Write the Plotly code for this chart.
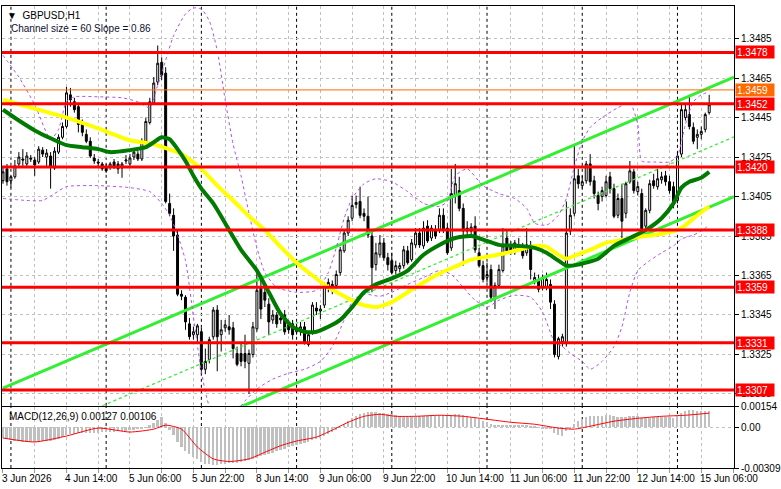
import plotly.graph_objects as go

W, H = 781, 489
ML, MR, MT, MB = 2, 41, 0, 21
PH = H - MT - MB  # plot area height

# ---------------- data ----------------
bar_idx = list(range(179))
opens = [1.34130,1.34190,1.34130,1.34150,1.34215,1.34240,1.34215,1.34245,1.34235,1.34225,
 1.34285,1.34250,1.34255,1.34195,1.34275,1.34350,1.34405,1.34565,1.34530,1.34505,
 1.34425,1.34365,1.34330,1.34245,1.34225,1.34215,1.34200,1.34200,1.34225,1.34215,
 1.34195,1.34230,1.34215,1.34250,1.34265,1.34240,1.34330,1.34425,1.34525,1.34630,
 1.34730,1.34675,1.34015,1.33955,1.33855,1.33555,1.33540,1.33405,1.33350,1.33350,
 1.33365,1.33175,1.33225,1.33340,1.33475,1.33350,1.33385,1.33390,1.33385,1.33255,
 1.33255,1.33255,1.33205,1.33250,1.33380,1.33590,1.33565,1.33505,1.33425,1.33450,
 1.33435,1.33450,1.33400,1.33405,1.33365,1.33365,1.33390,1.33300,1.33365,1.33485,
 1.33470,1.33500,1.33590,1.33605,1.33600,1.33665,1.33775,1.33865,1.33940,1.34010,
 1.34025,1.33965,1.33950,1.33850,1.33705,1.33755,1.33815,1.33740,1.33725,1.33675,
 1.33685,1.33700,1.33775,1.33730,1.33805,1.33865,1.33800,1.33900,1.33840,1.33880,
 1.33880,1.33955,1.33890,1.33790,1.34055,1.34080,1.33990,1.33890,1.33875,1.33900,
 1.33765,1.33700,1.33640,1.33680,1.33530,1.33600,1.33675,1.33840,1.33800,1.33775,
 1.33790,1.33780,1.33765,1.33805,1.33625,1.33630,1.33590,1.33590,1.33605,1.33505,
 1.33240,1.33315,1.33305,1.33875,1.33965,1.34155,1.34105,1.34130,1.34215,1.34130,
 1.34055,1.34050,1.34055,1.34150,1.34090,1.33955,1.34040,1.33965,1.34125,1.34175,
 1.34075,1.34065,1.33900,1.33980,1.34130,1.34100,1.34135,1.34155,1.34125,1.34100,
 1.34030,1.34265,1.34450,1.34465,1.34400,1.34350,1.34365,1.34390,1.34475]
highs = [1.34200,1.34215,1.34155,1.34235,1.34275,1.34290,1.34275,1.34260,1.34250,1.34305,
 1.34300,1.34290,1.34275,1.34300,1.34365,1.34425,1.34605,1.34600,1.34550,1.34525,
 1.34440,1.34390,1.34350,1.34265,1.34240,1.34225,1.34215,1.34225,1.34240,1.34230,
 1.34225,1.34260,1.34265,1.34290,1.34280,1.34345,1.34450,1.34550,1.34655,1.34815,
 1.34755,1.34705,1.34065,1.33990,1.33875,1.33575,1.33550,1.33435,1.33390,1.33405,
 1.33385,1.33280,1.33340,1.33490,1.33500,1.33425,1.33425,1.33450,1.33415,1.33290,
 1.33305,1.33350,1.33275,1.33415,1.33665,1.33640,1.33615,1.33535,1.33475,1.33465,
 1.33455,1.33475,1.33425,1.33425,1.33405,1.33415,1.33415,1.33365,1.33515,1.33515,
 1.33500,1.33615,1.33635,1.33625,1.33675,1.33795,1.33885,1.33950,1.34055,1.34055,
 1.34100,1.33990,1.34050,1.33875,1.33815,1.33855,1.33840,1.33765,1.33765,1.33725,
 1.33715,1.33800,1.33800,1.33835,1.33890,1.33890,1.33925,1.33930,1.33905,1.33905,
 1.33990,1.33990,1.33915,1.34190,1.34215,1.34150,1.34015,1.33925,1.33915,1.33950,
 1.33790,1.33725,1.33715,1.33705,1.33615,1.33705,1.33890,1.33875,1.33825,1.33830,
 1.33840,1.33815,1.33890,1.33825,1.33665,1.33655,1.33655,1.33665,1.33630,1.33525,
 1.33340,1.33355,1.34025,1.33990,1.34315,1.34190,1.34155,1.34230,1.34265,1.34155,
 1.34075,1.34100,1.34155,1.34175,1.34115,1.34065,1.34115,1.34125,1.34230,1.34190,
 1.34125,1.34090,1.33990,1.34135,1.34165,1.34190,1.34175,1.34180,1.34155,1.34125,
 1.34275,1.34515,1.34515,1.34565,1.34425,1.34390,1.34405,1.34475,1.34565]
lows = [1.34115,1.34105,1.34095,1.34140,1.34200,1.34205,1.34205,1.34225,1.34155,1.34215,
 1.34250,1.34205,1.34090,1.34185,1.34265,1.34340,1.34395,1.34505,1.34475,1.34375,
 1.34355,1.34320,1.34245,1.34215,1.34200,1.34180,1.34170,1.34185,1.34190,1.34165,
 1.34145,1.34215,1.34205,1.34235,1.34230,1.34230,1.34320,1.34415,1.34515,1.34615,
 1.34640,1.34015,1.33950,1.33775,1.33545,1.33525,1.33375,1.33325,1.33325,1.33315,
 1.33150,1.33150,1.33205,1.33325,1.33165,1.33265,1.33365,1.33350,1.33230,1.33190,
 1.33190,1.33180,1.33050,1.33235,1.33365,1.33430,1.33490,1.33350,1.33405,1.33385,
 1.33405,1.33350,1.33355,1.33325,1.33350,1.33345,1.33300,1.33290,1.33350,1.33450,
 1.33430,1.33485,1.33565,1.33555,1.33585,1.33650,1.33765,1.33850,1.33925,1.33990,
 1.33940,1.33925,1.33840,1.33565,1.33675,1.33740,1.33725,1.33675,1.33655,1.33655,
 1.33665,1.33685,1.33705,1.33720,1.33790,1.33790,1.33785,1.33815,1.33825,1.33835,
 1.33865,1.33865,1.33755,1.33775,1.34015,1.33975,1.33700,1.33855,1.33855,1.33765,
 1.33690,1.33615,1.33615,1.33515,1.33480,1.33590,1.33665,1.33765,1.33755,1.33755,
 1.33775,1.33735,1.33750,1.33630,1.33605,1.33565,1.33575,1.33575,1.33480,1.33235,
 1.33225,1.33290,1.33290,1.33855,1.33950,1.34090,1.34090,1.34115,1.34105,1.34040,
 1.33980,1.34025,1.34045,1.34065,1.33940,1.33940,1.33815,1.33940,1.34115,1.34065,
 1.34055,1.33865,1.33875,1.33965,1.34090,1.34085,1.34115,1.34105,1.34065,1.33990,
 1.34015,1.34250,1.34435,1.34390,1.34315,1.34290,1.34340,1.34375,1.34465]
closes = [1.34175,1.34125,1.34150,1.34205,1.34250,1.34235,1.34255,1.34240,1.34210,1.34290,
 1.34265,1.34270,1.34200,1.34280,1.34350,1.34405,1.34575,1.34540,1.34490,1.34415,
 1.34375,1.34330,1.34255,1.34230,1.34220,1.34190,1.34180,1.34215,1.34200,1.34190,
 1.34215,1.34235,1.34245,1.34275,1.34240,1.34330,1.34430,1.34530,1.34625,1.34725,
 1.34665,1.34025,1.33965,1.33850,1.33555,1.33545,1.33415,1.33340,1.33365,1.33395,
 1.33175,1.33215,1.33325,1.33475,1.33340,1.33375,1.33400,1.33375,1.33280,1.33200,
 1.33215,1.33215,1.33255,1.33390,1.33575,1.33480,1.33525,1.33415,1.33450,1.33405,
 1.33425,1.33365,1.33375,1.33350,1.33385,1.33390,1.33315,1.33350,1.33500,1.33470,
 1.33480,1.33600,1.33615,1.33580,1.33655,1.33780,1.33865,1.33930,1.34005,1.34020,
 1.33955,1.33950,1.33855,1.33690,1.33765,1.33815,1.33740,1.33705,1.33665,1.33700,
 1.33700,1.33780,1.33715,1.33815,1.33865,1.33805,1.33890,1.33825,1.33890,1.33850,
 1.33955,1.33880,1.33765,1.34065,1.34115,1.33990,1.33875,1.33875,1.33895,1.33780,
 1.33700,1.33630,1.33655,1.33540,1.33600,1.33680,1.33800,1.33775,1.33765,1.33815,
 1.33805,1.33750,1.33805,1.33680,1.33640,1.33580,1.33640,1.33630,1.33515,1.33250,
 1.33330,1.33340,1.33865,1.33955,1.34140,1.34115,1.34125,1.34215,1.34125,1.34065,
 1.34015,1.34080,1.34125,1.34090,1.33950,1.34040,1.33925,1.34115,1.34180,1.34080,
 1.34100,1.33875,1.33980,1.34115,1.34105,1.34140,1.34150,1.34125,1.34080,1.34025,
 1.34255,1.34490,1.34490,1.34405,1.34330,1.34365,1.34380,1.34465,1.34515]

# moving averages (read at sampled bars)
ma_slow_x = [0,8,16,24,32,38,41,45,50,54,58,62,66,70,74,78,82,86,90,94,98,102,106,110,114,118,122,126,130,134,137,140,142,144,148,152,156,160,164,168,170,172,175,178]
ma_slow_y = [1.34540,1.34495,1.34450,1.34395,1.34335,1.34315,1.34295,1.34265,1.34190,1.34105,1.34030,1.33950,1.33880,1.33795,1.33715,1.33650,1.33590,1.33545,1.33505,1.33490,1.33515,1.33565,1.33615,1.33660,1.33695,1.33730,1.33745,1.33760,1.33780,1.33800,1.33795,1.33755,1.33735,1.33750,1.33780,1.33815,1.33830,1.33845,1.33855,1.33870,1.33880,1.33905,1.33955,1.34000]
ma_fast_x = [0,4,8,12,16,20,24,27,32,36,38,40,42,44,46,48,50,53,56,60,64,67,70,73,76,79,82,85,88,91,94,98,102,106,110,114,118,122,125,130,134,137,140,142,145,150,154,158,162,166,169,171,173,176,178]
ma_fast_y = [1.34490,1.34435,1.34385,1.34345,1.34310,1.34300,1.34290,1.34275,1.34285,1.34300,1.34325,1.34350,1.34340,1.34290,1.34230,1.34155,1.34090,1.34015,1.33915,1.33780,1.33675,1.33565,1.33455,1.33390,1.33365,1.33365,1.33390,1.33425,1.33490,1.33565,1.33605,1.33635,1.33675,1.33755,1.33805,1.33840,1.33850,1.33825,1.33805,1.33800,1.33790,1.33765,1.33725,1.33700,1.33705,1.33735,1.33800,1.33840,1.33880,1.33940,1.34015,1.34095,1.34125,1.34145,1.34175]

# Bollinger bands
bb_up_x = [0,4,8,12,14,16,18,24,30,34,37,39,41,43,46,48,50,52,54,56,58,60,62,64,66,69,74,79,82,84,86,88,91,94,98,102,106,110,112,114,117,121,125,129,132,134,137,140,142,144,146,148,151,155,158,160,161,164,168,170,172,174,176,178]
bb_up_y = [1.34765,1.34655,1.34515,1.34340,1.34390,1.34530,1.34555,1.34555,1.34550,1.34530,1.34500,1.34615,1.34740,1.34865,1.34975,1.35005,1.35000,1.34940,1.34790,1.34540,1.34315,1.34155,1.33965,1.33790,1.33665,1.33590,1.33565,1.33575,1.33665,1.33790,1.33940,1.34040,1.34115,1.34140,1.34125,1.34075,1.34015,1.34000,1.34025,1.34155,1.34190,1.34105,1.34065,1.34040,1.33990,1.33915,1.33905,1.33955,1.34040,1.34200,1.34330,1.34400,1.34450,1.34500,1.34525,1.34415,1.34230,1.34225,1.34225,1.34255,1.34415,1.34530,1.34565,1.34580]
bb_lo_x = [0,6,10,13,16,24,32,37,40,42,44,46,48,50,52,55,58,61,64,68,72,76,80,83,86,88,91,95,98,102,106,110,113,116,119,122,125,129,133,136,139,141,143,146,148,151,154,156,158,160,163,166,169,171,174,176,178]
bb_lo_y = [1.34040,1.34030,1.34030,1.34065,1.34100,1.34105,1.34095,1.34075,1.34015,1.33955,1.33855,1.33725,1.33440,1.33165,1.32990,1.32925,1.32940,1.33015,1.33075,1.33125,1.33155,1.33175,1.33215,1.33290,1.33425,1.33515,1.33555,1.33545,1.33565,1.33605,1.33640,1.33675,1.33655,1.33590,1.33525,1.33490,1.33525,1.33550,1.33540,1.33465,1.33315,1.33290,1.33255,1.33215,1.33175,1.33215,1.33290,1.33390,1.33565,1.33675,1.33725,1.33765,1.33800,1.33835,1.33855,1.33875,1.33905]

# regression channel (bar index, price) at the chart edges
chan_x = [0, 184.25]
chan_upper = [1.33080, 1.34655]
chan_mid = [1.32776, 1.34352]
chan_lower = [1.32472, 1.34049]

# horizontal levels
levels = [1.3478, 1.3452, 1.3420, 1.3388, 1.3359, 1.3331, 1.3307]
level_orange = 1.3459
price_ticks = [1.3485, 1.3465, 1.3445, 1.3425, 1.3405, 1.3385, 1.3365, 1.3345, 1.3325, 1.3305]

# MACD
macd_hist = [-0.00082,-0.00090,-0.00098,-0.00102,-0.00105,-0.00108,-0.00110,-0.00110,-0.00110,-0.00108,
 -0.00105,-0.00100,-0.00100,-0.00095,-0.00085,-0.00075,-0.00060,-0.00052,-0.00048,-0.00046,
 -0.00045,-0.00044,-0.00045,-0.00042,-0.00040,-0.00038,-0.00036,-0.00034,-0.00032,-0.00030,
 -0.00028,-0.00025,-0.00022,-0.00020,-0.00016,-0.00010,-0.00002,0.00015,0.00035,0.00055,
 0.00075,0.00030,-0.00020,-0.00060,-0.00110,-0.00145,-0.00180,-0.00205,-0.00225,-0.00240,
 -0.00262,-0.00275,-0.00280,-0.00282,-0.00284,-0.00280,-0.00276,-0.00272,-0.00270,-0.00268,
 -0.00262,-0.00256,-0.00250,-0.00240,-0.00228,-0.00218,-0.00210,-0.00202,-0.00192,-0.00182,
 -0.00172,-0.00162,-0.00152,-0.00142,-0.00132,-0.00124,-0.00116,-0.00108,-0.00098,-0.00088,
 -0.00078,-0.00064,-0.00050,-0.00036,-0.00020,0.00000,0.00022,0.00045,0.00068,0.00085,
 0.00098,0.00108,0.00115,0.00118,0.00116,0.00112,0.00108,0.00104,0.00098,0.00092,
 0.00086,0.00082,0.00080,0.00080,0.00082,0.00084,0.00086,0.00088,0.00088,0.00088,
 0.00090,0.00090,0.00086,0.00092,0.00100,0.00098,0.00090,0.00084,0.00078,0.00070,
 0.00060,0.00048,0.00038,0.00026,0.00018,0.00016,0.00020,0.00020,0.00018,0.00018,
 0.00018,0.00016,0.00016,0.00010,0.00004,-0.00002,-0.00006,-0.00008,-0.00016,-0.00040,
 -0.00055,-0.00062,-0.00030,-0.00005,0.00025,0.00045,0.00060,0.00075,0.00085,0.00088,
 0.00088,0.00088,0.00090,0.00090,0.00085,0.00082,0.00076,0.00078,0.00084,0.00084,
 0.00084,0.00072,0.00068,0.00072,0.00075,0.00080,0.00082,0.00082,0.00080,0.00074,
 0.00088,0.00110,0.00125,0.00130,0.00128,0.00124,0.00122,0.00124,0.00127]
signal_x = [0,8,16,24,32,38,41,45,49,53,57,62,66,70,74,79,83,87,91,95,99,104,110,116,122,128,134,140,144,148,154,160,166,172,178]
signal_y = [-0.00082,-0.00112,-0.00067,-0.00007,-0.00037,-0.00015,0.00015,-0.00015,-0.00150,-0.00240,-0.00260,-0.00240,-0.00190,-0.00140,-0.00105,-0.00075,-0.00022,0.00037,0.00082,0.00097,0.00082,0.00082,0.00090,0.00082,0.00060,0.00037,0.00022,-0.00007,-0.00015,0.00007,0.00045,0.00067,0.00082,0.00090,0.00106]
macd_ticks = [0.00154, 0.0, -0.00309]

# time axis
time_tick_idx = [0,16,32,48,64,80,96,112,128,144,160,176]
time_tick_lbl = ["3 Jun 2026","4 Jun 14:00","5 Jun 06:00","5 Jun 22:00","8 Jun 14:00","9 Jun 06:00",
                 "9 Jun 22:00","10 Jun 14:00","11 Jun 06:00","11 Jun 22:00","12 Jun 14:00","15 Jun 06:00"]
day_start_idx = [2,26,50,74,98,122,146,170]

# ---------------- figure ----------------
FONT = "Liberation Sans"
main_dom = [(PH - 405) / PH, 1.0]
macd_dom = [0.0, (PH - 406) / PH]
XR = [-0.25, 184.25]

fig = go.Figure()

RED = "#FF0000"
ORANGE = "#FF6A00"
LIME = "#33EE33"

# channel
fig.add_trace(go.Scatter(x=chan_x, y=chan_upper, mode="lines", line=dict(color=LIME, width=3), hoverinfo="skip"))
fig.add_trace(go.Scatter(x=chan_x, y=chan_lower, mode="lines", line=dict(color=LIME, width=3), hoverinfo="skip"))
fig.add_trace(go.Scatter(x=chan_x, y=chan_mid, mode="lines", line=dict(color=LIME, width=1.3, dash="3px,3px"), hoverinfo="skip"))

# bollinger
for bx, by in ((bb_up_x, bb_up_y), (bb_lo_x, bb_lo_y)):
    fig.add_trace(go.Scatter(x=bx, y=by, mode="lines", line=dict(color="#B44FE8", width=1, dash="3px,3px", shape="spline", smoothing=0.6), hoverinfo="skip"))

# moving averages
fig.add_trace(go.Scatter(x=ma_slow_x, y=ma_slow_y, mode="lines", line=dict(color="#FFFF00", width=4, shape="spline", smoothing=0.6), hoverinfo="skip"))
fig.add_trace(go.Scatter(x=ma_fast_x, y=ma_fast_y, mode="lines", line=dict(color="#007A00", width=4, shape="spline", smoothing=0.6), hoverinfo="skip"))

# candles
fig.add_trace(go.Candlestick(
    x=bar_idx, open=opens, high=highs, low=lows, close=closes,
    increasing=dict(fillcolor="#FFFFFF", line=dict(color="#000000", width=1)),
    decreasing=dict(fillcolor="#000000", line=dict(color="#000000", width=1)),
    whiskerwidth=0, hoverinfo="skip", xaxis="x", yaxis="y"))

# MACD
fig.add_trace(go.Bar(x=bar_idx, y=macd_hist, marker=dict(color="#C0C0C0", line=dict(width=0)),
                     width=0.5, xaxis="x2", yaxis="y2", hoverinfo="skip"))
fig.add_trace(go.Scatter(x=signal_x, y=signal_y, mode="lines", line=dict(color="#FF0000", width=1, shape="spline", smoothing=0.6),
                         xaxis="x2", yaxis="y2", hoverinfo="skip"))

shapes = []
# level lines
for lv in levels:
    shapes.append(dict(type="line", xref="paper", yref="y", x0=0, x1=1, y0=lv, y1=lv,
                       line=dict(color=RED, width=3), layer="above"))
shapes.append(dict(type="line", xref="paper", yref="y", x0=0, x1=1, y0=level_orange, y1=level_orange,
                   line=dict(color=ORANGE, width=1), layer="above"))
# day separators
for d in day_start_idx:
    for yr in ("y domain", "y2 domain"):
        shapes.append(dict(type="line", xref="x", yref=yr, x0=d, x1=d, y0=0, y1=1,
                           line=dict(color="#000000", width=1, dash="3px,3px"), layer="below"))

annotations = []
for lv in levels + [level_orange]:
    annotations.append(dict(xref="paper", yref="y", x=1, y=lv, xanchor="left", yanchor="middle",
                            text=f"{lv:.4f}", showarrow=False, align="left", width=36, height=10,
                            bgcolor=ORANGE if lv == level_orange else RED, borderpad=1, xshift=1,
                            font=dict(family=FONT, size=10, color="white")))
for ti, tl in zip(time_tick_idx, time_tick_lbl):
    annotations.append(dict(xref="x2", yref="paper", x=ti, y=0, xanchor="left", yanchor="top",
                            text=tl, showarrow=False, xshift=-3, yshift=-3,
                            font=dict(family=FONT, size=10, color="black")))
annotations.append(dict(xref="paper", yref="paper", x=0, y=1, xanchor="left", yanchor="top",
                        text="▼  GBPUSD,H1", showarrow=False, xshift=3, yshift=-2,
                        font=dict(family=FONT, size=10, color="black")))
annotations.append(dict(xref="paper", yref="paper", x=0, y=1, xanchor="left", yanchor="top",
                        text="Channel size = 60 Slope = 0.86", showarrow=False, xshift=7, yshift=-15,
                        font=dict(family=FONT, size=10, color="#101030")))
annotations.append(dict(xref="paper", yref="paper", x=0, y=macd_dom[1], xanchor="left", yanchor="top",
                        text="MACD(12,26,9) 0.00127 0.00106", showarrow=False, xshift=5, yshift=-2,
                        font=dict(family=FONT, size=10, color="black")))

grid = dict(showgrid=True, gridcolor="#C0C0C0", griddash="3px,3px", gridwidth=1)
fig.update_layout(
    width=W, height=H, margin=dict(l=ML, r=MR, t=MT, b=MB),
    paper_bgcolor="white", plot_bgcolor="white", showlegend=False,
    font=dict(family=FONT, size=10, color="black"),
    bargap=0,
    xaxis=dict(domain=[0, 1], range=XR, anchor="y", tickmode="linear", tick0=0, dtick=8,
               showticklabels=False, ticks="", zeroline=False, showline=True, linecolor="black",
               mirror=True, rangeslider=dict(visible=False), **grid),
    yaxis=dict(domain=main_dom, range=[1.32990, 1.35015], side="right", anchor="x",
               tickmode="array", tickvals=price_ticks, ticktext=[f"{t:.4f}" for t in price_ticks],
               ticks="outside", ticklen=4, tickcolor="black", zeroline=False,
               showline=True, linecolor="black", mirror=True,
               tickfont=dict(family=FONT, size=10), **grid),
    xaxis2=dict(domain=[0, 1], range=XR, anchor="y2", matches="x", tickmode="linear", tick0=0, dtick=8,
                showticklabels=False, ticks="outside", ticklen=4, tickcolor="#999999", zeroline=False,
                showline=True, linecolor="black", mirror=True, **grid),
    yaxis2=dict(domain=macd_dom, range=[-0.00309, 0.00154], side="right", anchor="x2",
                tickmode="array", tickvals=macd_ticks, ticktext=["0.00154", "0.00", "-0.00309"],
                ticks="outside", ticklen=4, tickcolor="black", zeroline=False,
                showline=True, linecolor="black", mirror=True,
                tickfont=dict(family=FONT, size=10), **grid),
    shapes=shapes, annotations=annotations,
)

fig.write_html("out.html")
